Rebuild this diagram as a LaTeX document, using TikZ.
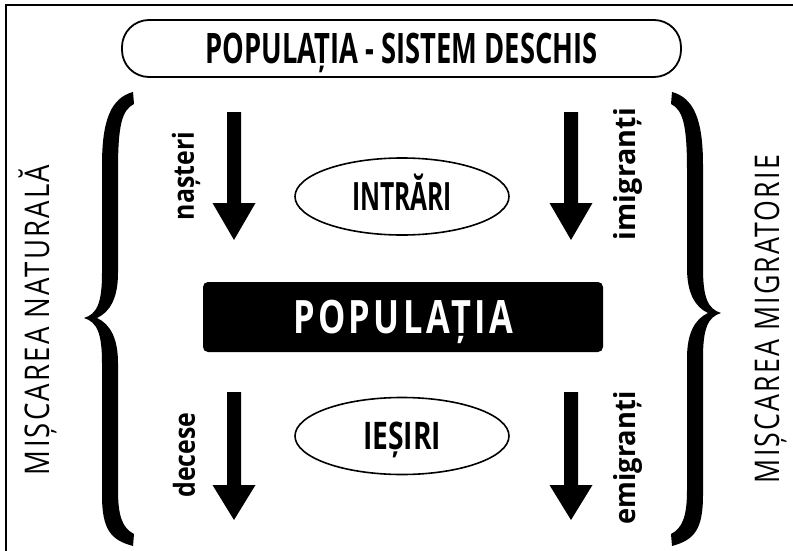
\documentclass[tikz,border=0pt]{standalone}
\usepackage{fontspec}
\usepackage{graphicx}
\usetikzlibrary{shapes.geometric}
\setmainfont{Open Sans}
\newcommand{\fitw}[2]{\resizebox{#1}{\height}{#2}}
\newcommand{\fatarrow}[4]{%
  \fill ({#1-7},#2) -- ({#1+7},#2) -- ({#1+7},#3) -- ({#1+21.5},#3) -- (#1,#4) -- ({#1-21.5},#3) -- ({#1-7},#3) -- cycle;}
\newcommand{\bracepath}[1]{%
  \fill (133,92) .. controls (111,98) and (102,120) .. (102,165)
    -- (102,{#1-45}) .. controls (102,{#1-15}) and (97,{#1-4}) .. (84,#1)
    .. controls (97,{#1+4}) and (102,{#1+15}) .. (102,{#1+45})
    -- (102,495) .. controls (102,530) and (111,540) .. (133,546)
    -- (134,534) .. controls (122,528) and (118,515) .. (118,490)
    -- (118,{#1+45}) .. controls (118,{#1+20}) and (110,{#1+6}) .. (97,#1)
    .. controls (110,{#1-6}) and (118,{#1-20}) .. (118,{#1-45})
    -- (118,170) .. controls (118,125) and (122,110) .. (134,104) -- cycle;}
\tikzset{
  ellbox/.style={ellipse, draw, line width=1.6pt, minimum width=214pt, minimum height=77pt, inner sep=0pt, text height=27pt, text depth=0pt},
  sidelab/.style={rotate=90, inner sep=0pt, text height=24pt, text depth=0pt},
  flowlab/.style={rotate=90, inner sep=0pt, font=\bfseries\fontsize{29}{29}\selectfont}
}
\begin{document}
\begin{tikzpicture}[x=1pt,y=-1pt]
\useasboundingbox (0,0) rectangle (793,551);
% frame
\draw[line width=2.4pt] (6,551) -- (6,5) -- (793,5);
% title
\node[draw, line width=1.8pt, rounded corners=27pt, minimum width=559pt, minimum height=57pt, inner sep=0pt, text height=30pt, text depth=0pt] (title) at (401.5,48.5)
  {\fitw{392pt}{\bfseries\fontsize{42}{42}\selectfont POPULAȚIA - SISTEM DESCHIS}};
% central box
\node[fill=black, rounded corners=5pt, minimum width=400pt, minimum height=70pt, inner sep=0pt, text=white, text height=33pt, text depth=0pt] (pop) at (403,317)
  {\fitw{220pt}{\bfseries\fontsize{46}{46}\selectfont\addfontfeature{LetterSpace=10}POPULAȚIA}};
% ellipses
\node[ellbox] (intrari) at (402,196.5) {\fitw{100pt}{\bfseries\fontsize{39}{39}\selectfont INTRĂRI}};
\node[ellbox] (iesiri) at (402,436) {\fitw{78pt}{\bfseries\fontsize{38}{38}\selectfont IEȘIRI}};
% arrows
\fatarrow{234}{112}{203}{240}
\fatarrow{571}{112}{203}{240}
\fatarrow{234}{392}{485}{520}
\fatarrow{571}{392}{485}{520}
% flow labels
\node[flowlab] (nasteri) at (186,176) {\fitw{88pt}{nașteri}};
\node[flowlab] (imigranti) at (628,174) {\fitw{132pt}{imigranți}};
\node[flowlab] (decese) at (184,455) {\fitw{85pt}{decese}};
\node[flowlab] (emigranti) at (628,458) {\fitw{133pt}{emigranți}};
% braces
\bracepath{318}
\begin{scope}[shift={(805,0)}, xscale=-1]
\bracepath{313}
\end{scope}
% side labels
\node[sidelab] (natural) at (37,320) {\fitw{310pt}{\fontsize{34}{34}\selectfont\addfontfeature{LetterSpace=8}MIȘCAREA NATURALĂ}};
\node[sidelab] (migrator) at (767,319) {\fitw{328pt}{\fontsize{34}{34}\selectfont\addfontfeature{LetterSpace=8}MIȘCAREA MIGRATORIE}};
\end{tikzpicture}
\end{document}
